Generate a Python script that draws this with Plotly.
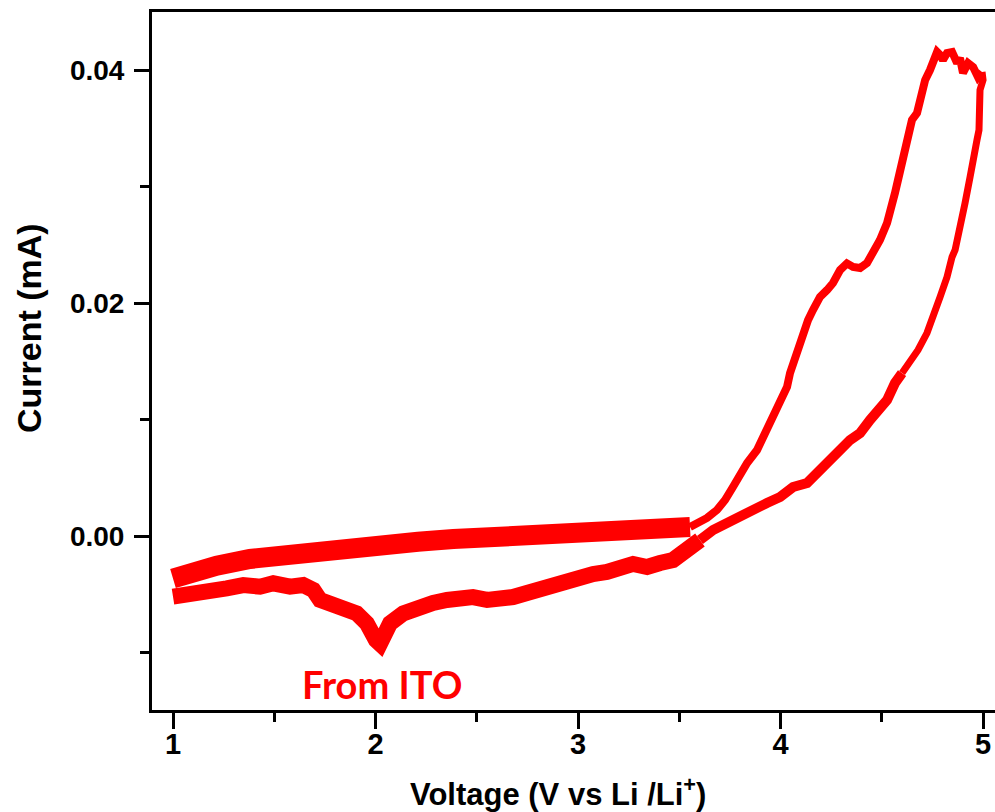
import plotly.graph_objects as go

# ---------------- data ----------------
# forward scan, flat noisy band from 1.0 V to ~3.55 V
fwd_low_v = [1.000, 1.051, 1.100, 1.216, 1.380, 1.545, 1.710, 1.874, 2.039, 2.210,
             2.384, 2.550, 2.714, 2.880, 3.043, 3.210, 3.372, 3.471, 3.553]
fwd_low_i = [-0.00365, -0.00335, -0.00300, -0.00255, -0.00197, -0.00163, -0.00120, -0.00097,
             -0.00077, -0.00050, -0.00026, -0.00009, 0.00017, 0.00024, 0.00032, 0.00040,
             0.00045, 0.00052, 0.00077]

# forward scan, rising part with shoulder and peak
fwd_high_v = [3.553, 3.637, 3.686, 3.726, 3.765, 3.800, 3.835, 3.884, 3.914, 3.963,
              3.998, 4.032, 4.047, 4.062, 4.086, 4.111, 4.136, 4.160, 4.195, 4.230,
              4.259, 4.294, 4.328, 4.358, 4.393, 4.427, 4.457, 4.491, 4.526, 4.541,
              4.565, 4.580, 4.600, 4.615, 4.630, 4.649, 4.674, 4.689, 4.704, 4.714,
              4.738, 4.753, 4.773, 4.788, 4.802, 4.822, 4.847, 4.872, 4.886, 4.901,
              4.926, 4.951, 4.975, 4.995]
fwd_high_i = [0.00077, 0.00155, 0.00223, 0.00309, 0.00421, 0.00541, 0.00627, 0.00738,
              0.00850, 0.00996, 0.01167, 0.01279, 0.01399, 0.01485, 0.01622, 0.01742,
              0.01854, 0.01940, 0.02052, 0.02112, 0.02172, 0.02283, 0.02340, 0.02310,
              0.02300, 0.02343, 0.02429, 0.02541, 0.02687, 0.02773, 0.02944, 0.03056,
              0.03202, 0.03313, 0.03485, 0.03571, 0.03631, 0.03742, 0.03828, 0.03914,
              0.04000, 0.04086, 0.04155, 0.04129, 0.04086, 0.04146, 0.04155, 0.04060,
              0.04103, 0.03974, 0.04060, 0.04026, 0.03940, 0.03983]

# reverse scan, steep fall from 5 V
rev_high_v = [4.995, 5.000, 4.985, 4.980, 4.970, 4.951, 4.936, 4.911, 4.886, 4.862,
              4.847, 4.822, 4.788, 4.753, 4.723, 4.679, 4.640, 4.600]
rev_high_i = [0.03983, 0.03914, 0.03828, 0.03485, 0.03399, 0.03167, 0.03082, 0.02858,
              0.02627, 0.02455, 0.02395, 0.02223, 0.02052, 0.01880, 0.01742, 0.01597,
              0.01511, 0.01399]

# reverse scan, middle part
rev_mid_v = [4.600, 4.565, 4.526, 4.491, 4.442, 4.393, 4.343, 4.294, 4.244, 4.180,
             4.131, 4.062, 3.998, 3.933, 3.864, 3.800, 3.736, 3.667, 3.602]
rev_mid_i = [0.01399, 0.01313, 0.01167, 0.01082, 0.00996, 0.00884, 0.00824, 0.00738,
             0.00652, 0.00567, 0.00455, 0.00421, 0.00335, 0.00283, 0.00223, 0.00163,
             0.00112, 0.00052, -0.00034]

# reverse scan, low-voltage part with the ITO reduction peak near 2 V
rev_low_v = [3.602, 3.538, 3.469, 3.405, 3.341, 3.272, 3.207, 3.143, 3.074, 3.010,
             2.946, 2.877, 2.812, 2.748, 2.679, 2.615, 2.551, 2.481, 2.417, 2.353,
             2.284, 2.203, 2.137, 2.072, 2.039, 2.022, 2.002, 1.989, 1.957, 1.907,
             1.841, 1.775, 1.726, 1.693, 1.643, 1.578, 1.495, 1.430, 1.347, 1.265,
             1.183, 1.100, 1.035, 1.000]
rev_low_i = [-0.00034, -0.00137, -0.00206, -0.00232, -0.00266, -0.00240, -0.00292,
             -0.00309, -0.00326, -0.00352, -0.00386, -0.00438, -0.00438, -0.00489,
             -0.00524, -0.00549, -0.00549, -0.00524, -0.00524, -0.00549, -0.00575,
             -0.00607, -0.00664, -0.00749, -0.00835, -0.00925, -0.00893, -0.00835,
             -0.00749, -0.00664, -0.00621, -0.00592, -0.00549, -0.00464, -0.00421,
             -0.00435, -0.00406, -0.00435, -0.00421, -0.00449, -0.00464, -0.00492,
             -0.00506, -0.00521]

x_tick_vals = [1, 2, 3, 4, 5]
x_tick_text = ["1", "2", "3", "4", "5"]
y_tick_vals = [0.0, 0.02, 0.04]
y_tick_text = ["0.00", "0.02", "0.04"]

x_title = "Voltage (V vs Li /Li<sup>+</sup>)"
y_title = "Current (mA)"
note_text = "From ITO"
note_x = 2.032
note_y = -0.0127

# ---------------- figure ----------------
RED = "#ff0000"
segments = [
    (fwd_low_v, fwd_low_i, 20),
    (rev_low_v, rev_low_i, 16),
    (rev_mid_v, rev_mid_i, 10),
    (fwd_high_v, fwd_high_i, 8),
    (rev_high_v, rev_high_i, 7),
]

fig = go.Figure()
for vv, ii, w in segments:
    fig.add_trace(go.Scatter(x=vv, y=ii, mode="lines",
                             line=dict(color=RED, width=w),
                             hoverinfo="skip", showlegend=False))

FONT = "Liberation Sans, Arial, sans-serif"

fig.update_layout(
    width=995, height=812,
    margin=dict(l=152, r=0, t=12, b=102),
    paper_bgcolor="white", plot_bgcolor="white",
    showlegend=False,
)

fig.update_xaxes(
    range=[0.8963, 5.059],
    showgrid=False, zeroline=False,
    showline=True, linecolor="black", linewidth=3, mirror=True,
    ticks="outside", ticklen=16, tickwidth=2.5, tickcolor="black",
    tickvals=x_tick_vals, ticktext=x_tick_text,
    tickfont=dict(family=FONT, size=29, color="black", weight="bold"),
    ticklabelstandoff=-10,
    minor=dict(ticks="outside", ticklen=9, tickwidth=2.5, tickcolor="black",
               dtick=0.5, tick0=1, showgrid=False),
)
fig.update_yaxes(
    range=[-0.014936, 0.04498],
    showgrid=False, zeroline=False,
    showline=True, linecolor="black", linewidth=3, mirror=False,
    ticks="outside", ticklen=15, tickwidth=2.5, tickcolor="black",
    tickvals=y_tick_vals, ticktext=y_tick_text,
    tickfont=dict(family=FONT, size=28, color="black", weight="bold"),
    ticklabelstandoff=4,
    minor=dict(ticks="outside", ticklen=9, tickwidth=2.5, tickcolor="black",
               dtick=0.01, tick0=0, showgrid=False),
)

fig.add_annotation(text=x_title, xref="paper", yref="paper",
                   x=0.4816, y=-0.1175, xanchor="center", yanchor="middle",
                   showarrow=False,
                   font=dict(family=FONT, size=31, color="black", weight="bold"))
fig.add_annotation(text=y_title, xref="paper", yref="paper",
                   x=-0.1459, y=0.5473, xanchor="center", yanchor="middle",
                   textangle=-90, showarrow=False,
                   font=dict(family=FONT, size=34, color="black", weight="bold"))
fig.add_annotation(text=note_text, xref="x", yref="y",
                   x=note_x, y=note_y, xanchor="center", yanchor="middle",
                   showarrow=False,
                   font=dict(family="Lato, Open Sans, sans-serif", size=38,
                             color=RED, weight="bold"))

fig.write_html("out.html",
               config={"displayModeBar": False},
               post_script="document.body.style.margin='0px';document.body.style.overflow='hidden';")
